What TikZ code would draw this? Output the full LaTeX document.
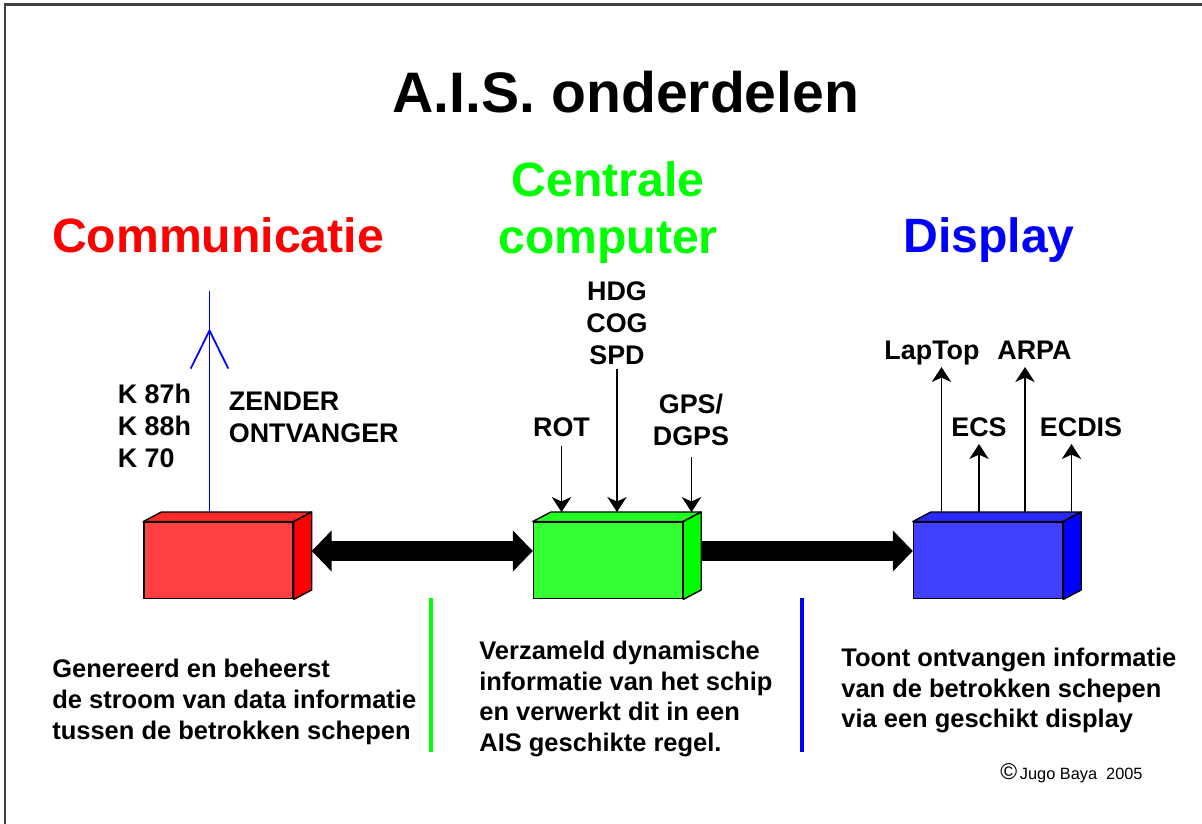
\documentclass[tikz,border=0pt]{standalone}
\usepackage{fontspec}
\setmainfont{Liberation Sans}
\usetikzlibrary{arrows.meta}
\definecolor{aisred}{HTML}{FF0000}
\definecolor{aisgreen}{HTML}{00FF00}
\definecolor{aisblue}{HTML}{0000FF}
\definecolor{redfront}{HTML}{FF4040}
\definecolor{redtop}{HTML}{FF2A2A}
\definecolor{greenfront}{HTML}{33FF33}
\definecolor{greentop}{HTML}{22FF22}
\definecolor{bluefront}{HTML}{4040FF}
\definecolor{bluetop}{HTML}{2A2AFF}
% top and side face of a box node: name, top colour, side colour
\newcommand{\cubefaces}[3]{%
  \filldraw[fill=#2,line width=0.8pt,line join=round] (#1.north west) -- ++(0.36,0.19) -- ([shift={(0.36,0.19)}]#1.north east) -- (#1.north east) -- cycle;
  \filldraw[fill=#3,line width=0.8pt,line join=round] (#1.north east) -- ++(0.36,0.19) -- ([shift={(0.36,0.19)}]#1.south east) -- (#1.south east) -- cycle;}

\begin{document}
\begin{tikzpicture}\bfseries
\tikzset{every node/.style={inner sep=0pt}}
\tikzset{head/.style={font=\fontsize{27.4}{32}\selectfont\bfseries,align=center}}
\tikzset{tagtext/.style={font=\fontsize{15.3}{18.2}\selectfont\bfseries}}
\tikzset{desc/.style={font=\fontsize{14.5}{17.5}\selectfont\bfseries,align=left,anchor=west}}
\tikzset{cube/.style={draw,line width=0.8pt,minimum width=2.98cm,minimum height=1.53cm}}
\tikzset{thinarrow/.style={line width=1.1pt,-{Stealth[length=8.5pt,width=11pt,inset=2.5pt]}}}
\tikzset{flow/.style={line width=11.4pt}}
\tikzset{antenna/.style={aisblue,line width=1pt}}
\tikzset{sep/.style={line width=1.8pt}}
\useasboundingbox (0,0) rectangle (24.04,16.48);
\draw[line width=1.2pt,black!75] (0.1,0) -- (0.1,16.39) -- (24.04,16.39);

\node[font=\fontsize{32.5}{38}\selectfont\bfseries,anchor=base] (title) at (12.52,14.22) {A.I.S. onderdelen};
\node[head,aisred,anchor=base] (commhead) at (4.36,11.42) {Communicatie};
\node[head,aisgreen] (cpuhead) at (12.16,12.23) {Centrale\\computer};
\node[head,aisblue,anchor=base] (disphead) at (19.78,11.42) {Display};

% the three units
\node[cube,fill=redfront] (comm) at (4.37,5.27) {};
\node[cube,fill=greenfront] (cpu) at (12.16,5.27) {};
\node[cube,fill=bluefront] (disp) at (19.76,5.27) {};
\cubefaces{comm}{redtop}{aisred}
\cubefaces{cpu}{greentop}{aisgreen}
\cubefaces{disp}{bluetop}{aisblue}
\coordinate (commtop) at ([yshift=0.19cm]comm.north);
\coordinate (cputop) at ([yshift=0.19cm]cpu.north);
\coordinate (disptop) at ([yshift=0.19cm]disp.north);

\draw[flow,{Triangle[length=11.4pt,width=22.8pt]}-{Triangle[length=11.4pt,width=22.8pt]}] ([shift={(0.36,0.19)}]comm.east) -- ([yshift=0.19cm]cpu.west);
\draw[flow,-{Triangle[length=11.4pt,width=22.8pt]}] ([shift={(0.36,0.19)}]cpu.east) -- ([yshift=0.19cm]disp.west);

% communicatie
\draw[antenna] ([xshift=-0.18cm]commtop) -- ++(0,4.42) coordinate (mast);
\draw[antenna] ([shift={(-0.375,-1.55)}]mast) -- ([yshift=-0.79cm]mast) -- ([shift={(0.375,-1.55)}]mast);
\node[tagtext,align=left,anchor=west] (kanaal) at (2.35,7.96) {K 87h\\K 88h\\K 70};
\node[tagtext,align=left,anchor=west] (zender) at (4.57,8.13) {ZENDER\\ONTVANGER};

% centrale computer
\node[tagtext,align=center] (koers) at (12.34,10.02) {HDG\\COG\\SPD};
\node[tagtext,anchor=base] (rot) at (11.23,7.74) {ROT};
\node[tagtext,align=center] (gps) at (13.82,8.08) {GPS/\\DGPS};
\draw[thinarrow] (rot.south) ++(0,-0.16) -- (rot.south |- cputop);
\draw[thinarrow] (koers.south) ++(0,-0.08) -- (koers.south |- cputop);
\draw[thinarrow] ([xshift=0.01cm]gps.south) ++(0,-0.22) -- ([xshift=0.01cm]gps.south |- cputop);

% display
\node[tagtext,anchor=base] (laptop) at (18.64,9.28) {LapTop};
\node[tagtext,anchor=base] (arpa) at (20.69,9.28) {ARPA};
\node[tagtext,anchor=base] (ecs) at (19.58,7.74) {ECS};
\node[tagtext,anchor=base] (ecdis) at (21.62,7.74) {ECDIS};
\draw[thinarrow] ([xshift=-0.93cm]disptop) -- ++(0,2.9);
\draw[thinarrow] ([xshift=-0.18cm]disptop) -- ++(0,1.36);
\draw[thinarrow] ([xshift=0.74cm]disptop) -- ++(0,2.9);
\draw[thinarrow] ([xshift=1.67cm]disptop) -- ++(0,1.36);

\draw[sep,aisgreen] (8.62,4.52) -- (8.62,1.44);
\draw[sep,aisblue] (16.04,4.52) -- (16.04,1.44);

\node[desc] (commtext) at (1.04,2.44) {Genereerd en beheerst\\de stroom van data informatie\\tussen de betrokken schepen};
\node[desc] (cputext) at (9.58,2.5) {Verzameld dynamische\\informatie van het schip\\en verwerkt dit in een\\AIS geschikte regel.};
\node[desc] (disptext) at (16.82,2.67) {Toont ontvangen informatie\\van de betrokken schepen\\via een geschikt display};
\node[anchor=west,font=\fontsize{9.3}{11}\selectfont\mdseries] (copy) at (20.0,1.02) {{\fontsize{13}{13}\selectfont ©}\,Jugo Baya\ \ 2005};
\end{tikzpicture}
\end{document}
